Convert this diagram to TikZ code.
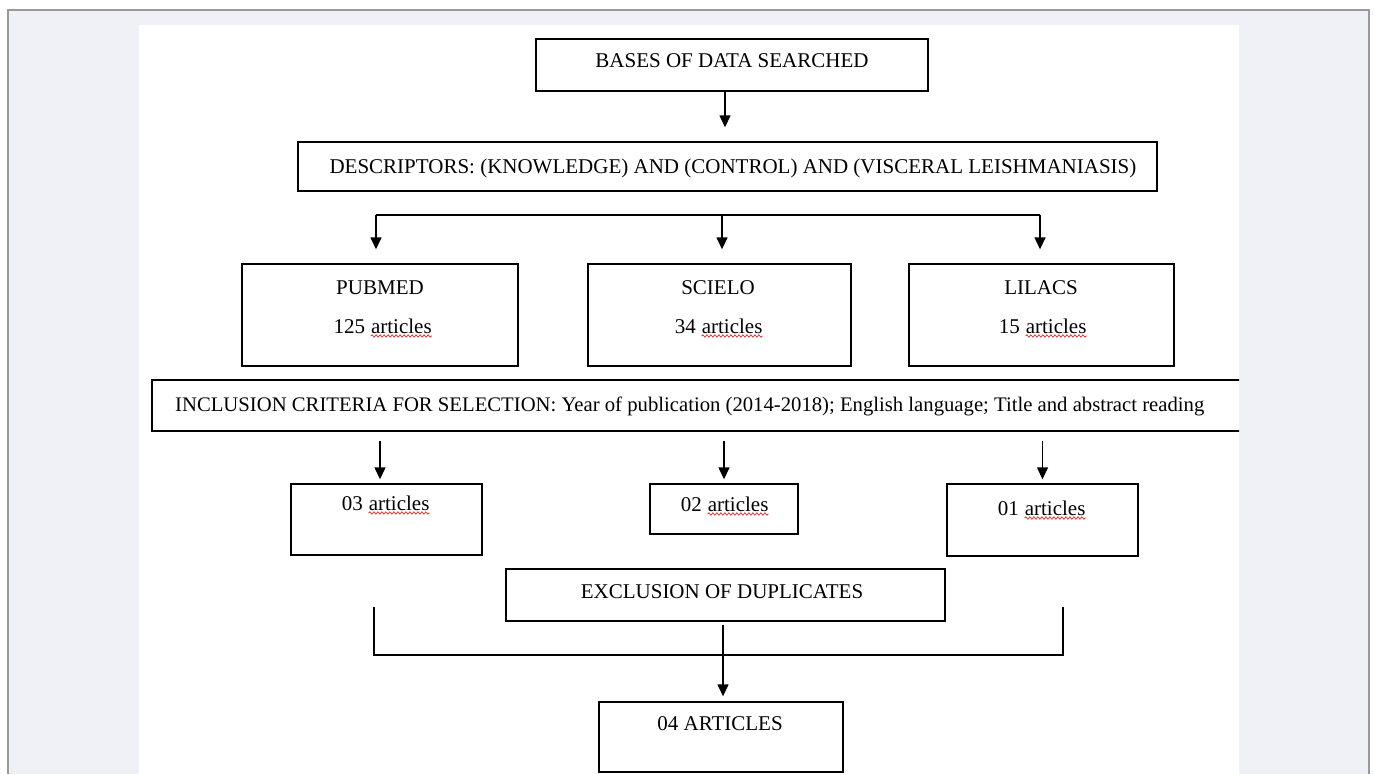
\documentclass[tikz,border=0pt]{standalone}
\usepackage{fontspec}
\setmainfont{Liberation Serif}
\usepackage{tikz}
\usetikzlibrary{positioning,arrows.meta,decorations.pathmorphing}
\definecolor{pagebg}{HTML}{F0F1F6}
\definecolor{framegray}{HTML}{9A9A9A}
\definecolor{squig}{HTML}{E03030}

% red spell-check underline
\newcommand{\wavy}[1]{\tikz[baseline=(w.base)]{\node[inner sep=0pt] (w) {#1};
  \draw[squig, line width=0.8pt, decorate, decoration={snake, amplitude=1.1pt, segment length=4pt}]
  ([yshift=-2.5pt]w.south west) -- ([yshift=-2.5pt]w.south east);}}

\tikzset{
  box/.style={draw, line width=1.4pt, inner sep=0pt},
  lbl/.style={inner sep=0pt, font=\fontsize{21}{25}\selectfont},
  arr/.style={line width=1.4pt, -{Triangle[length=12pt,width=11pt]}},
  link/.style={line width=1.3pt},
}

\begin{document}
\begin{tikzpicture}[x=1pt, y=-1pt]
\useasboundingbox (0,0) rectangle (1375,774);
% Page
\fill[pagebg] (8,10) rectangle (1369,774);
\draw[framegray, line width=1.5pt] (8,774) -- (8,10) -- (1369,10) -- (1369,774);
\fill[white] (139,25) rectangle (1239,774);

% Search
\node[box, minimum width=392pt, minimum height=52pt] (bases) at (732,65) {};
\node[lbl] (basestxt) at (732,61) {BASES OF DATA SEARCHED};

\node[box, minimum width=859pt, minimum height=49pt] (desc) at (727.5,166.5) {};
\node[lbl] (desctxt) at (733,168) {DESCRIPTORS: (KNOWLEDGE) AND (CONTROL) AND (VISCERAL LEISHMANIASIS)};

% Databases
\node[box, minimum width=276pt, minimum height=102pt] (pub) at (380,315) {};
\node[lbl] (pubname) at (380,288) {PUBMED};
\node[lbl] (pubnum) at (383,328) {125 \wavy{articles}};

\node[box, minimum width=263pt, minimum height=102pt] (sci) at (719.5,315) {};
\node[lbl] (sciname) at (718,288) {SCIELO};
\node[lbl] (scinum) at (719,328) {34 \wavy{articles}};

\node[box, minimum width=265pt, minimum height=102pt] (lil) at (1041.5,315) {};
\node[lbl] (lilname) at (1041,288) {LILACS};
\node[lbl] (lilnum) at (1043,328) {15 \wavy{articles}};

% Inclusion
\begin{scope}
\clip (139,25) rectangle (1239,774);
\node[box, minimum width=1120pt, minimum height=51pt] (incl) at (712,405.5) {};
\end{scope}
\node[lbl, anchor=west, font=\fontsize{20.7}{25}\selectfont] (incltxt) at (175,406) {INCLUSION CRITERIA FOR SELECTION: Year of publication (2014-2018); English language; Title and abstract reading};

% Selected
\node[box, minimum width=191pt, minimum height=71pt] (r03) at (386.5,519.5) {};
\node[lbl] (r03txt) at (386,505) {03 \wavy{articles}};

\node[box, minimum width=148pt, minimum height=50pt] (r02) at (724,509) {};
\node[lbl] (r02txt) at (725,506) {02 \wavy{articles}};

\node[box, minimum width=191pt, minimum height=72pt] (r01) at (1042.5,520) {};
\node[lbl] (r01txt) at (1042,510) {01 \wavy{articles}};

% Exclusion and result
\node[box, minimum width=439pt, minimum height=52pt] (excl) at (725.5,595) {};
\node[lbl] (excltxt) at (722,592) {EXCLUSION OF DUPLICATES};

\node[box, minimum width=244pt, minimum height=70pt] (res) at (721,737) {};
\node[lbl] (restxt) at (720,724) {04 ARTICLES};

% Arrows
\coordinate (split) at (722,215);
\coordinate (jl) at (374,607);
\coordinate (jr) at (1063,607);

\draw[arr, shorten >=14pt] (bases.south -| 725,0) -- (725,0 |- desc.north);
\draw[link] (376,0 |- split) -- (1040,0 |- split);
\draw[arr, shorten >=14pt] (376,0 |- split) -- (376,0 |- pub.north);
\draw[arr, shorten >=14pt] (split) -- (split |- sci.north);
\draw[arr, shorten >=14pt] (1040,0 |- split) -- (1040,0 |- lil.north);

\draw[arr, shorten <=9pt, shorten >=4pt] (incl.south -| 380,0) -- (380,0 |- r03.north);
\draw[arr, shorten <=9pt, shorten >=4pt] (incl.south -| r02.north) -- (r02.north);
\draw[arr, shorten <=9pt, shorten >=4pt] (incl.south -| r01.north) -- (r01.north);

\draw[link] (jl) -- ++(0,48) -| (jr);
\draw[arr, shorten <=3pt, shorten >=5pt] (excl.south -| 723,0) -- (723,0 |- res.north);
\end{tikzpicture}
\end{document}
